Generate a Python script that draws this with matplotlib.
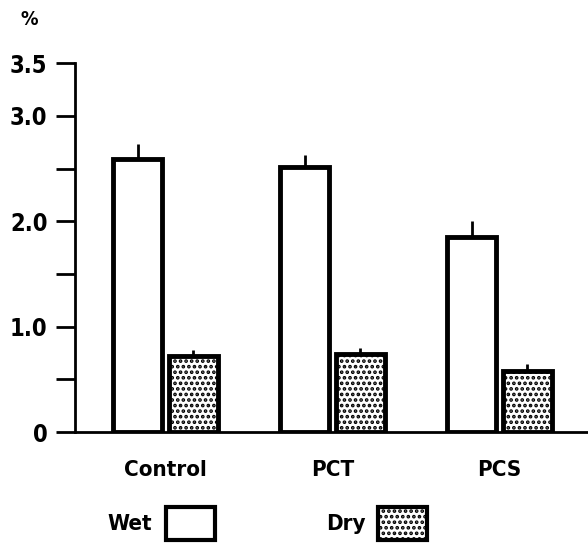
import numpy as np
import matplotlib.pyplot as plt
from matplotlib.patches import Patch

plt.rcParams['font.family'] = ['DejaVu Sans']
plt.rcParams['font.stretch'] = 'condensed'
plt.rcParams['font.weight'] = 'bold'
plt.rcParams['hatch.linewidth'] = 1.8

groups = ["Control", "PCT", "PCS"]
wet = [2.59, 2.51, 1.85]
wet_err = [0.14, 0.12, 0.15]
dry = [0.72, 0.74, 0.58]
dry_err = [0.06, 0.06, 0.07]

ytick_major = [0, 1.0, 2.0, 3.0, 3.5]
ytick_labels = ["0", "1.0", "2.0", "3.0", "3.5"]
ytick_minor = [0.5, 1.5, 2.5]


def plot_chart():
    fig = plt.figure(figsize=(5.88, 5.49), dpi=100)
    ax = fig.add_axes([0.128, 0.213, 0.872, 0.672])

    x = np.arange(len(groups))
    w = 0.295
    ax.bar(x - 0.166, wet, w, color="white", edgecolor="black", linewidth=3.5,
           yerr=[np.zeros(3), wet_err], error_kw=dict(ecolor="black", elinewidth=2, capsize=0))
    ax.bar(x + 0.166, dry, w, color="white", edgecolor="black", linewidth=3.5, hatch="...",
           yerr=[np.zeros(3), dry_err], error_kw=dict(ecolor="black", elinewidth=2, capsize=0))

    ax.set_xlim(-0.54, 2.53)
    ax.set_ylim(0, 3.5)
    ax.spines["top"].set_visible(False)
    ax.spines["right"].set_visible(False)
    ax.spines["left"].set_linewidth(2)
    ax.spines["bottom"].set_linewidth(2)

    ax.set_yticks(ytick_major)
    ax.set_yticklabels(ytick_labels, fontsize=17)
    ax.set_yticks(ytick_minor, minor=True)
    ax.tick_params(axis="y", which="both", length=14, width=2, direction="out", pad=6)
    ax.set_xticks(x)
    ax.set_xticklabels(groups, fontsize=16)
    ax.tick_params(axis="x", length=0, pad=20)

    fig.text(0.035, 0.965, "%", fontsize=14, ha="left", va="center")

    handles = [Patch(facecolor="white", edgecolor="black", linewidth=3),
               Patch(facecolor="white", edgecolor="black", linewidth=3, hatch="...")]
    fig.legend(handles, ["Wet", "Dry"], loc="center", bbox_to_anchor=(0.455, 0.047),
               ncol=2, markerfirst=False, frameon=False, fontsize=16,
               handlelength=2.2, handleheight=1.9, columnspacing=5.0, handletextpad=0.6)

    fig.savefig("out.png", dpi=100)


if __name__ == "__main__":
    plot_chart()
